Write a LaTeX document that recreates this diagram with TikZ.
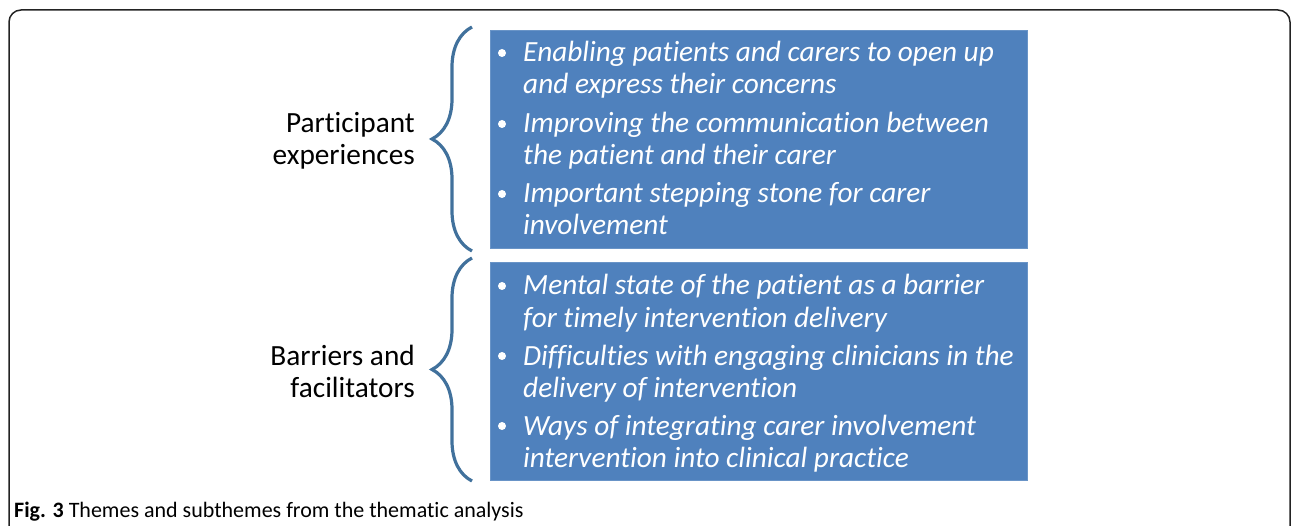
\documentclass[tikz,border=0pt]{standalone}
\usepackage{fontspec}
\setmainfont{Carlito}[Ligatures=NoCommon]
\usetikzlibrary{decorations.pathreplacing}
\definecolor{boxblue}{RGB}{79,129,189}
\definecolor{braceblue}{RGB}{65,113,156}
\definecolor{framegray}{RGB}{35,35,35}
\tikzset{
  themebox/.style={fill=boxblue, draw=boxblue!85!white, line width=1pt, anchor=north west,
    minimum width=537pt, minimum height=218pt, inner sep=0pt},
  themebrace/.style={draw=braceblue, line width=3.2pt, decorate,
    decoration={brace, amplitude=40pt, aspect=0.5}},
  themelabel/.style={anchor=east, align=right, inner sep=0pt, font=\fontsize{29.3}{32}\selectfont},
  subtheme/.style={anchor=base west, inner sep=0pt, text=white, font=\fontsize{29.3}{32}\selectfont\itshape},
  dot/.style={circle, fill=white, inner sep=0pt, minimum size=8pt}
}
\begin{document}
\begin{tikzpicture}[x=1pt,y=-1pt]
	\clip (0,0) rectangle (1292,526);
	\draw[framegray, line width=1.5pt, rounded corners=12pt] (9,10) rectangle (1290,560);

	% blue boxes
	\node[themebox] (box1) at (490,30) {};
	\node[themebox] (box2) at (490,262) {};

	% braces
	\draw[themebrace] ([shift={(-18,2)}]box1.south west) -- ([shift={(-18,-3)}]box1.north west);
	\draw[themebrace] ([shift={(-18,0)}]box2.south west) -- ([shift={(-18,-4)}]box2.north west);

	% themes
	\node[themelabel] (th1) at (415,141) {Participant\\experiences};
	\node[themelabel] (th2) at (415,371) {Barriers and\\facilitators};

	% subthemes
	\foreach \y/\a/\b [count=\i] in {
			62/Enabling patients and carers to open up/and express their concerns,
			133/Improving the communication between/the patient and their carer,
			203/Important stepping stone for carer/involvement,
			295/Mental state of the patient as a barrier/for timely intervention delivery,
			365/Difficulties with engaging clinicians in the/delivery of intervention,
			435/Ways of integrating carer involvement/intervention into clinical practice}
	{
		\node[dot] (d\i) at (502,\y-9) {};
		\node[subtheme] (s\i a) at (523,\y) {\a};
		\node[subtheme] (s\i b) at (523,\y+32) {\b};
	}

	\node[anchor=base west, inner sep=0pt, font=\fontsize{22}{26}\selectfont] (cap) at (14,517)
		{\textbf{Fig. 3} Themes and subthemes from the thematic analysis};
\end{tikzpicture}
\end{document}
